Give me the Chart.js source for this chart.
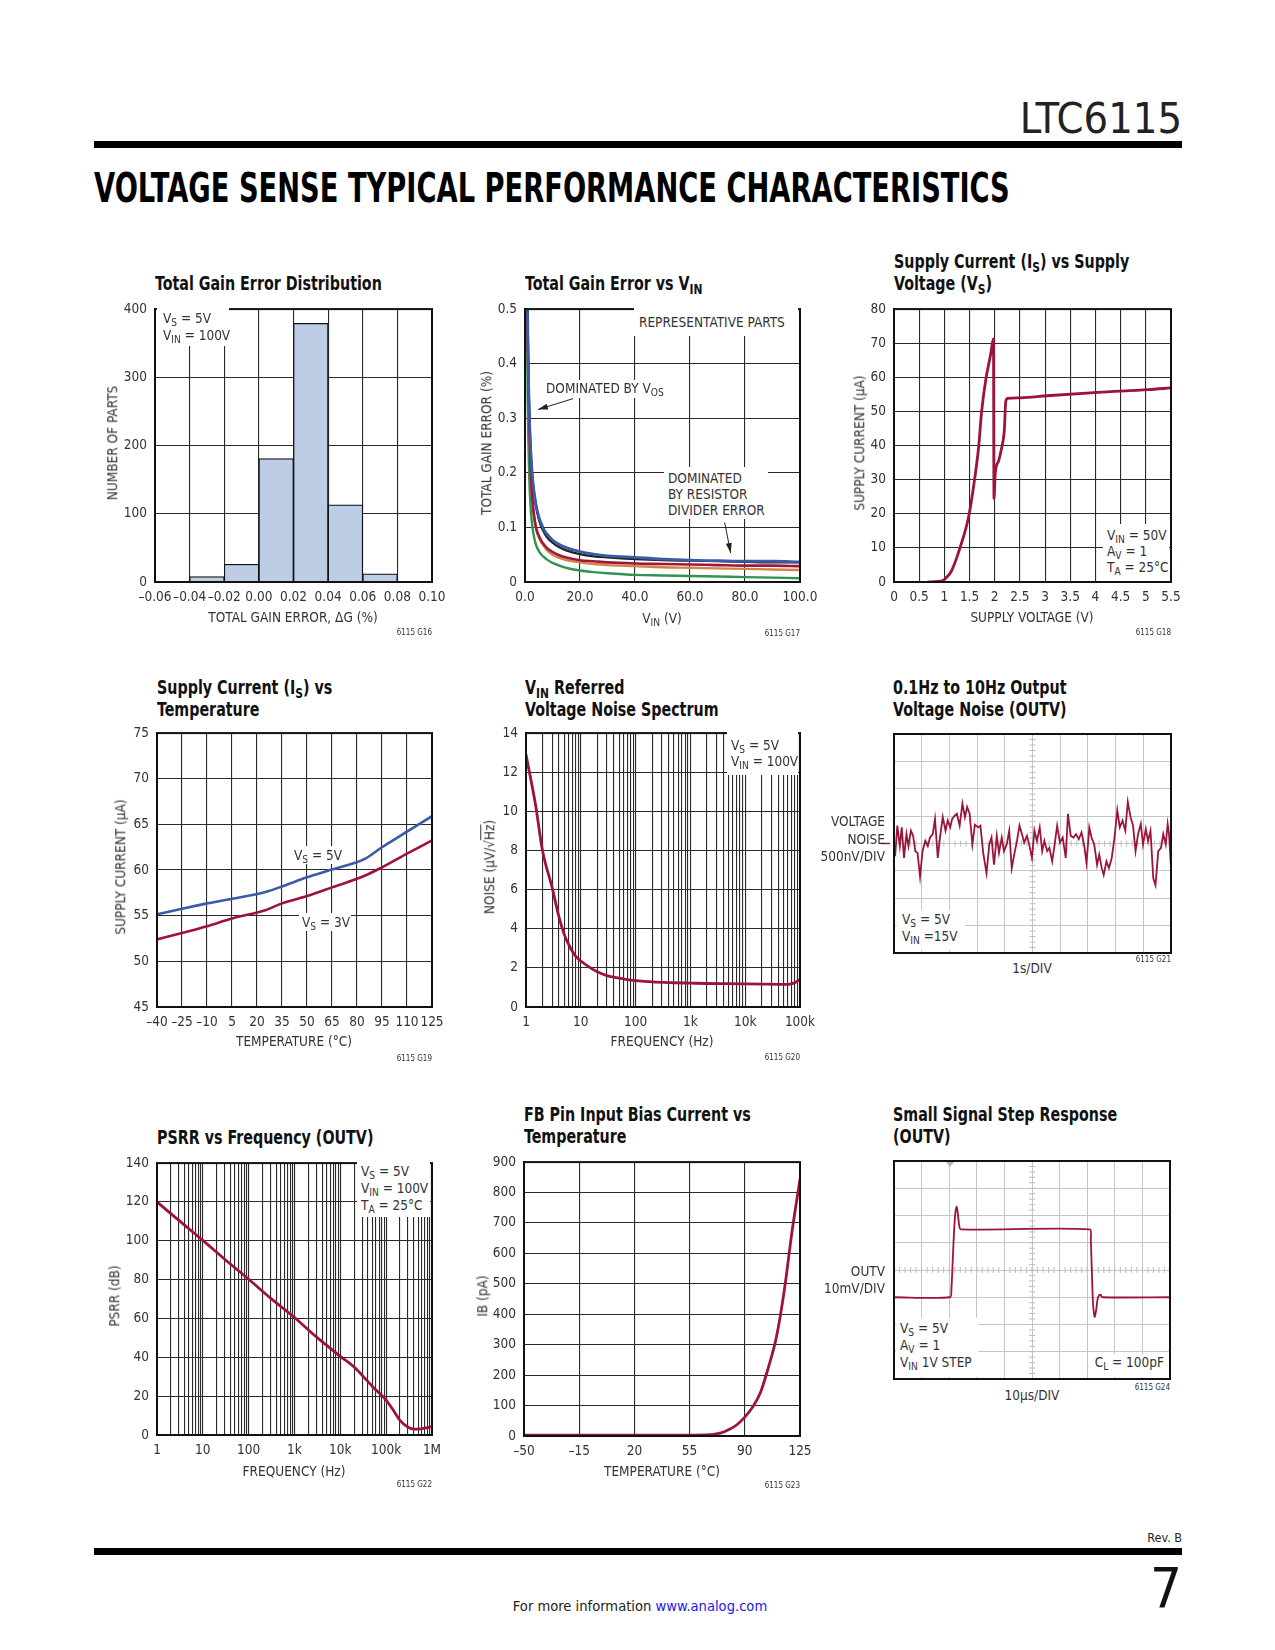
<!DOCTYPE html>
<html>
<head>
<meta charset="utf-8">
<script src="https://cdn.jsdelivr.net/npm/chart.js@4.4.1/dist/chart.umd.min.js"></script>
<style>
html, body { margin: 0; padding: 0; background: #fff; }
#page { position: relative; width: 1275px; height: 1650px; overflow: hidden;
  font-family: "Liberation Sans Narrow", "DejaVu Sans Condensed", sans-serif; color: #333; font-size: 13.5px; }
.abs { position: absolute; white-space: nowrap; line-height: 1; }
.rule { position: absolute; left: 94px; width: 1088px; height: 7px; background: #000; }
.ttl { position: absolute; white-space: nowrap; font-weight: bold; font-size: 19px; line-height: 22px; color: #111;
  transform: scaleX(0.835); transform-origin: left top; }
.note { position: absolute; white-space: nowrap; background: #fff; line-height: 17px; z-index: 2; box-sizing: border-box; }
.sect { font-family: "DejaVu Sans", sans-serif; font-weight: bold; font-size: 40px; color: #000; transform-origin: left center; }
sub { font-size: 0.75em; vertical-align: -0.3em; line-height: 0; }
canvas { position: absolute; }
</style>
</head>
<body>
<div id="page"></div>
<script>
// ---- data ----
const histCenters = [-0.05, -0.03, -0.01, 0.01, 0.03, 0.05, 0.07, 0.09];
const histCounts = [0, 8, 26, 181, 379, 113, 12, 0];

const gainVin = [0.6, 1, 1.5, 2, 2.5, 3, 4, 5, 6, 7, 8, 10, 12, 15, 20, 25, 30, 40, 50, 60, 70, 80, 90, 100];
const gainBlue = [0.75, 0.464, 0.321, 0.249, 0.206, 0.177, 0.142, 0.12, 0.106, 0.095, 0.088, 0.077, 0.070, 0.063, 0.0555, 0.051, 0.048, 0.045, 0.042, 0.040, 0.039, 0.038, 0.038, 0.037];
const gainBlack = [0.78, 0.47, 0.325, 0.25, 0.205, 0.175, 0.138, 0.115, 0.100, 0.090, 0.082, 0.072, 0.065, 0.058, 0.051, 0.047, 0.045, 0.042, 0.040, 0.039, 0.038, 0.037, 0.036, 0.036];
const gainRed = [0.70, 0.45, 0.30, 0.21, 0.165, 0.135, 0.10, 0.085, 0.075, 0.068, 0.062, 0.055, 0.050, 0.045, 0.040, 0.038, 0.036, 0.034, 0.033, 0.032, 0.031, 0.030, 0.030, 0.029];
const gainOrange = [0.68, 0.43, 0.29, 0.20, 0.158, 0.13, 0.098, 0.082, 0.072, 0.065, 0.058, 0.050, 0.045, 0.040, 0.036, 0.033, 0.031, 0.029, 0.027, 0.026, 0.025, 0.024, 0.023, 0.022];
const gainGreen = [0.55, 0.33, 0.20, 0.14, 0.11, 0.09, 0.068, 0.057, 0.05, 0.045, 0.041, 0.035, 0.031, 0.026, 0.021, 0.018, 0.016, 0.013, 0.012, 0.011, 0.010, 0.009, 0.008, 0.007];
const gainArrows = [[17.5, 0.336, 4.7, 0.316], [72.6, 0.109, 74.8, 0.053]];

const supplyV = [0.67, 0.97, 1.04, 1.14, 1.31, 1.48, 1.58, 1.68, 1.74, 1.83, 1.91, 1.96, 1.975, 1.985, 2.01, 2.08, 2.14, 2.19, 2.22, 2.26, 2.51, 3.04, 4.05, 5.05, 5.5];
const supplyI = [0, 0.4, 1.3, 3.2, 10, 19, 28, 39.5, 50, 60, 66, 70.5, 71.3, 24.5, 31.8, 35.6, 39.5, 44.4, 53, 53.8, 54, 54.6, 55.6, 56.4, 56.9];

const tempC = [-40, -25, -10, 5, 25, 35, 50, 65, 85, 95, 110, 125];
const isVs5 = [55.15, 55.76, 56.35, 56.85, 57.6, 58.2, 59.2, 60.05, 61.25, 62.5, 64.2, 65.9];
const isVs3 = [52.4, 53.1, 53.85, 54.7, 55.6, 56.35, 57.15, 58.1, 59.4, 60.3, 61.8, 63.25];
const tempTicks = [-40, -25, -10, 5, 20, 35, 50, 65, 80, 95, 110, 125];

const noiseF = [1, 1.5, 2, 3, 4, 5, 6, 7, 8, 10, 15, 20, 30, 50, 70, 100, 200, 500, 1000, 2000, 5000, 10000, 20000, 40000, 60000, 70000, 85000, 100000];
const noiseDens = [12.9, 10.3, 8.0, 6.1, 4.6, 3.7, 3.2, 2.85, 2.6, 2.35, 2.0, 1.8, 1.6, 1.47, 1.4, 1.35, 1.28, 1.24, 1.22, 1.2, 1.19, 1.18, 1.17, 1.16, 1.16, 1.18, 1.28, 1.42];

const scopeNoiseT = [0.04, 0.12, 0.21, 0.28, 0.36, 0.45, 0.52, 0.61, 0.69, 0.77,
  0.85, 0.94, 1.03, 1.13, 1.22, 1.30, 1.40, 1.48, 1.58, 1.66,
  1.76, 1.86, 1.94, 2.03, 2.10, 2.20, 2.27, 2.37, 2.47, 2.56,
  2.64, 2.73, 2.83, 2.92, 3.04, 3.12, 3.22, 3.34, 3.44, 3.52,
  3.61, 3.71, 3.79, 3.89, 3.97, 4.07, 4.16, 4.25, 4.34, 4.44,
  4.53, 4.62, 4.70, 4.80, 4.88, 4.98, 5.07, 5.16, 5.26, 5.35,
  5.43, 5.53, 5.61, 5.71, 5.80, 5.89, 5.99, 6.09, 6.20, 6.28,
  6.38, 6.48, 6.57, 6.67, 6.77, 6.87, 6.95, 7.05, 7.13, 7.23,
  7.33, 7.41, 7.50, 7.57, 7.67, 7.76, 7.86, 7.96, 8.06, 8.15,
  8.25, 8.35, 8.44, 8.54, 8.63, 8.72, 8.81, 8.91, 8.99, 9.09,
  9.17, 9.26, 9.36, 9.44, 9.54, 9.64, 9.72, 9.81, 9.88, 9.93, 10.0];
const scopeNoiseNV = [-233, 326, -47, 295, -264, 171, -47, 233, 140, -140,
  -171, -605, -140, 47, -47, 109, 171, 450, -264, 109,
  481, 233, 419, 295, 450, 512, 543, 326, 729, 481,
  667, 543, -16, 344, 295, 326, -171, -543, -16, 109,
  -388, 140, -171, 109, -140, -16, 233, -450, -202, 47,
  326, 171, 16, 140, -16, -264, 233, 47, 295, -140,
  47, -140, -78, -326, -16, 326, 16, 109, -264, 543,
  140, 109, 171, 78, 202, -47, -357, 295, 109, -16,
  -388, -202, -450, -574, -326, -450, -264, 109, 605, 295,
  419, 233, 760, 481, 326, -140, 171, 357, -16, 264,
  47, 233, -636, -760, -140, -78, 171, -16, 357, 171, -450];

const psrrF = [1, 3, 10, 30, 100, 300, 1000, 3000, 10000, 20000, 50000, 100000, 150000, 200000, 300000, 400000, 500000, 700000, 1000000];
const psrrDb = [120, 110.5, 100.2, 90.5, 80.2, 70.5, 60.5, 50.5, 40.5, 35, 25, 18, 12, 7.5, 4, 3, 3, 3.5, 4.3];

const ibTemp = [-50, -15, 20, 55, 65, 70, 75, 80, 85, 90, 95, 100, 105, 110, 115, 120, 125];
const ibPa = [3, 3, 3, 3, 3.5, 5, 10, 21, 37, 62, 95, 144, 226, 324, 477, 674, 843];

const stepT = [0, 20.3, 20.8, 21.3, 21.8, 22.3, 22.7, 23.1, 23.6, 24.2, 70.9, 71.3, 71.7, 72.1, 72.7, 73.2, 73.8, 74.4, 74.9, 75.5, 100];
const stepMv = [-10, -10, -7, 4, 15, 21.5, 23.2, 21, 16.5, 14.9, 14.9, 11, -1, -12, -17.2, -15, -10.5, -9.2, -9.1, -10, -10];

const freqLabels = { 1: '1', 10: '10', 100: '100', 1000: '1k', 10000: '10k', 100000: '100k', 1000000: '1M' };

// ---- helpers ----
const page = document.getElementById('page');
const FONT = '"Liberation Sans Narrow", "DejaVu Sans Condensed", sans-serif';
const RED = '#9c1538';
Chart.defaults.font.family = FONT;
Chart.defaults.font.size = 13.5;
Chart.defaults.color = '#333';
Chart.defaults.plugins.legend.display = false;
Chart.defaults.plugins.tooltip.enabled = false;
Chart.defaults.elements.point.radius = 0;

const xy = (xs, ys) => xs.map((x, i) => ({ x, y: ys[i] }));
const dash = v => (v < -1e-9 ? '\u2013' + Math.abs(v) : String(Math.abs(v) < 1e-9 ? 0 : v));

function put(html, x, y, o = {}) {
  const d = document.createElement('div');
  d.className = 'abs ' + (o.cls || '');
  d.innerHTML = html;
  d.style.left = x + 'px';
  d.style.top = y + 'px';
  if (o.size) d.style.fontSize = o.size + 'px';
  if (o.color) d.style.color = o.color;
  const tx = o.align === 'r' ? '-100%' : o.align === 'c' || o.rot ? '-50%' : '0';
  d.style.transform = `translate(${tx},-50%)` + (o.rot ? ' rotate(-90deg)' : '') + (o.sx ? ` scaleX(${o.sx})` : '');
  page.appendChild(d);
  return d;
}

function title(html, x, top) {
  const d = document.createElement('div');
  d.className = 'ttl';
  d.innerHTML = html;
  d.style.left = x + 'px';
  d.style.top = top + 'px';
  page.appendChild(d);
}

function note(l, t, w, h, html, pad, align, lh) {
  const d = document.createElement('div');
  d.className = 'note';
  d.innerHTML = html;
  Object.assign(d.style, { left: l + 'px', top: t + 'px', width: w + 'px', height: h + 'px',
    padding: pad, textAlign: align || 'left' });
  if (lh) d.style.lineHeight = lh + 'px';
  page.appendChild(d);
}

const framePlugin = {
  id: 'frame',
  afterDraw(chart) {
    const { ctx, chartArea: a } = chart;
    ctx.save();
    ctx.strokeStyle = '#111';
    ctx.lineWidth = 2;
    ctx.strokeRect(a.left, a.top, a.right - a.left, a.bottom - a.top);
    ctx.restore();
  }
};

function makeChart(box, m, config) {
  const cv = document.createElement('canvas');
  const w = box.r - box.l + m.l + m.r, h = box.b - box.t + m.t + m.b;
  cv.width = w; cv.height = h;
  Object.assign(cv.style, { left: (box.l - m.l) + 'px', top: (box.t - m.t) + 'px', width: w + 'px', height: h + 'px' });
  page.appendChild(cv);
  const o = config.options;
  o.responsive = false;
  o.animation = false;
  o.layout = { padding: { top: m.t, right: m.r, left: 0, bottom: 0 } };
  o.scales.x.afterFit = s => { s.height = m.b; };
  o.scales.y.afterFit = s => { s.width = m.l; };
  config.plugins = [framePlugin].concat(config.plugins || []);
  return new Chart(cv, config);
}

const GRID = { color: '#2a2a2a', lineWidth: 1.1, drawTicks: false, offset: false };
const BORDER = { display: true, color: '#111', width: 2 };
const XPAD = 7, YPAD = 8;

function lin(min, max, step, fmt, pad) {
  return { type: 'linear', min, max, offset: false, grid: GRID, border: BORDER,
    ticks: { stepSize: step, padding: pad, autoSkip: false, maxRotation: 0, callback: fmt || dash } };
}
function lintk(values, fmt, pad) {
  const s = lin(values[0], values[values.length - 1], 1, fmt, pad);
  s.afterBuildTicks = sc => { sc.ticks = values.map(value => ({ value })); };
  return s;
}
function logx(max) {
  return { type: 'logarithmic', min: 1, max, grid: GRID, border: BORDER,
    afterBuildTicks: s => {
      const t = [];
      for (let d = 1; d < max; d *= 10) for (let k = 1; k < 10; k++) t.push({ value: k * d });
      t.push({ value: max });
      s.ticks = t;
    },
    ticks: { padding: XPAD, autoSkip: false, maxRotation: 0, callback: v => freqLabels[v] || '' } };
}
function line(data, color, width, extra) {
  return Object.assign({ data, borderColor: color, borderWidth: width || 2.6, pointRadius: 0,
    cubicInterpolationMode: 'monotone', fill: false }, extra || {});
}

const M = { l: 60, t: 10, r: 26, b: 32 };

// ---- page furniture ----
put('LTC6115', 1182, 118, { align: 'r', size: 43, color: '#222' });
const rt = document.createElement('div'); rt.className = 'rule'; rt.style.top = '141px'; page.appendChild(rt);
const sect = put('VOLTAGE SENSE TYPICAL PERFORMANCE CHARACTERISTICS', 94, 188, { cls: 'sect' });
sect.style.transform = `translate(0,-50%) scaleX(${916 / sect.offsetWidth})`;
put('Rev. B', 1182, 1538, { align: 'r', size: 12.5, color: '#222' });
const rb = document.createElement('div'); rb.className = 'rule'; rb.style.top = '1548px'; page.appendChild(rb);
put('7', 1182, 1588, { align: 'r', size: 56, color: '#111' });
put('For more information <span style="color:#1a1aee">www.analog.com</span>', 640, 1606, { align: 'c', size: 14.6, color: '#222' });

// ---- 1: Total Gain Error Distribution ----
title('Total Gain Error Distribution', 155, 272);
makeChart({ l: 155, t: 303, r: 432, b: 582 }, M, {
  type: 'bar',
  data: { datasets: [{ data: xy(histCenters, histCounts), backgroundColor: '#bdcde6', borderColor: '#111',
    borderWidth: 1.2, barPercentage: 1, categoryPercentage: 1 }] },
  options: { scales: {
    x: lin(-0.06, 0.10, 0.02, v => (v < -1e-9 ? '\u2013' : '') + Math.abs(v).toFixed(2), XPAD),
    y: lin(0, 400, 100, null, YPAD) } }
});
note(157, 306, 72, 40, 'V<sub>S</sub> = 5V<br>V<sub>IN</sub> = 100V', '4px 0 0 6px');
put('TOTAL GAIN ERROR, \u0394G (%)', 293, 618, { align: 'c' });
put('NUMBER OF PARTS', 113, 443, { rot: true });
put('6115 G16', 432, 633, { align: 'r', size: 8 });

// ---- 2: Total Gain Error vs VIN ----
title('Total Gain Error vs V<sub>IN</sub>', 525, 272);
const arrowPlugin = {
  id: 'arrows',
  afterDatasetsDraw(chart) {
    const { ctx, scales: { x, y } } = chart;
    ctx.save();
    ctx.strokeStyle = '#222'; ctx.fillStyle = '#222'; ctx.lineWidth = 1;
    gainArrows.forEach(([x0, y0, x1, y1]) => {
      const ax = x.getPixelForValue(x0), ay = y.getPixelForValue(y0);
      const bx = x.getPixelForValue(x1), by = y.getPixelForValue(y1);
      const ang = Math.atan2(by - ay, bx - ax);
      ctx.beginPath(); ctx.moveTo(ax, ay); ctx.lineTo(bx, by); ctx.stroke();
      ctx.beginPath(); ctx.moveTo(bx, by);
      ctx.lineTo(bx - 10 * Math.cos(ang) + 3 * Math.sin(ang), by - 10 * Math.sin(ang) - 3 * Math.cos(ang));
      ctx.lineTo(bx - 10 * Math.cos(ang) - 3 * Math.sin(ang), by - 10 * Math.sin(ang) + 3 * Math.cos(ang));
      ctx.closePath(); ctx.fill();
    });
    ctx.restore();
  }
};
makeChart({ l: 525, t: 303, r: 800, b: 582 }, M, {
  type: 'line',
  data: { datasets: [
    line(xy(gainVin, gainBlue), '#3b5aa8', 2.8),
    line(xy(gainVin, gainBlack), '#222', 2.2),
    line(xy(gainVin, gainRed), '#a0173c', 2.6),
    line(xy(gainVin, gainOrange), '#cf8740', 2.4),
    line(xy(gainVin, gainGreen), '#2f9450', 2.4)
  ] },
  options: { scales: {
    x: lin(0, 100, 20, v => v.toFixed(1), XPAD),
    y: lin(0, 0.5, 0.1, v => (v < 1e-9 ? '0' : v.toFixed(1)), YPAD) } },
  plugins: [arrowPlugin]
});
note(634, 305, 164, 31, 'REPRESENTATIVE PARTS', '9px 0 0 5px');
note(542, 380, 100, 18, 'DOMINATED BY V<sub>OS</sub>', '0 0 0 4px');
note(664, 467, 104, 52, 'DOMINATED<br>BY RESISTOR<br>DIVIDER ERROR', '3px 0 0 4px', null, 16);
put('V<sub>IN</sub> (V)', 662, 619, { align: 'c' });
put('TOTAL GAIN ERROR (%)', 487, 443, { rot: true });
put('6115 G17', 800, 634, { align: 'r', size: 8 });

// ---- 3: Supply Current vs Supply Voltage ----
title('Supply Current (I<sub>S</sub>) vs Supply<br>Voltage (V<sub>S</sub>)', 894, 250);
makeChart({ l: 894, t: 303, r: 1171, b: 582 }, M, {
  type: 'line',
  data: { datasets: [line(xy(supplyV, supplyI), RED, 2.8)] },
  options: { scales: { x: lin(0, 5.5, 0.5, null, XPAD), y: lin(0, 80, 10, null, YPAD) } }
});
note(1103, 524, 66, 57, 'V<sub>IN</sub> = 50V<br>A<sub>V</sub> = 1<br>T<sub>A</sub> = 25\u00b0C', '3px 0 0 4px', null, 16);
put('SUPPLY VOLTAGE (V)', 1032, 618, { align: 'c' });
put('SUPPLY CURRENT (\u00b5A)', 860, 443, { rot: true });
put('6115 G18', 1171, 633, { align: 'r', size: 8 });

// ---- 4: Supply Current vs Temperature ----
title('Supply Current (I<sub>S</sub>) vs<br>Temperature', 157, 676);
makeChart({ l: 157, t: 727, r: 432, b: 1007 }, M, {
  type: 'line',
  data: { datasets: [line(xy(tempC, isVs5), '#3b5aa8', 2.6), line(xy(tempC, isVs3), RED, 2.6)] },
  options: { scales: { x: lintk(tempTicks, null, XPAD), y: lin(45, 75, 5, null, YPAD) } }
});
note(291, 846, 52, 18, 'V<sub>S</sub> = 5V', '1px 0 0 3px');
note(299, 913, 52, 18, 'V<sub>S</sub> = 3V', '1px 0 0 3px');
put('TEMPERATURE (\u00b0C)', 294, 1042, { align: 'c' });
put('SUPPLY CURRENT (\u00b5A)', 121, 867, { rot: true });
put('6115 G19', 432, 1059, { align: 'r', size: 8 });

// ---- 5: VIN Referred Voltage Noise Spectrum ----
title('V<sub>IN</sub> Referred<br>Voltage Noise Spectrum', 525, 676);
makeChart({ l: 526, t: 727, r: 800, b: 1007 }, M, {
  type: 'line',
  data: { datasets: [line(xy(noiseF, noiseDens), RED, 2.8)] },
  options: { scales: { x: logx(100000), y: lin(0, 14, 2, null, YPAD) } }
});
note(727, 729, 71, 46, 'V<sub>S</sub> = 5V<br>V<sub>IN</sub> = 100V', '8px 0 0 4px', null, 16);
put('FREQUENCY (Hz)', 662, 1042, { align: 'c' });
put('NOISE (\u00b5V/\u221a<span style="text-decoration:overline">Hz</span>)', 490, 867, { rot: true });
put('6115 G20', 800, 1058, { align: 'r', size: 8 });

// ---- scope helpers ----
function scopeScale(min, max, step) {
  return { type: 'linear', min, max, grid: { color: '#c6c6c6', lineWidth: 1, drawTicks: false },
    border: { display: false }, ticks: { display: false, stepSize: step } };
}
const scopeTicks = {
  id: 'scopeTicks',
  beforeDatasetsDraw(chart) {
    const { ctx, chartArea: a } = chart;
    const cx = (a.left + a.right) / 2, cy = (a.top + a.bottom) / 2;
    const dx = (a.right - a.left) / 50, dy = (a.bottom - a.top) / 40;
    ctx.save();
    ctx.strokeStyle = '#bdbdbd'; ctx.lineWidth = 1;
    ctx.beginPath();
    for (let i = 1; i < 50; i++) { const px = a.left + i * dx; ctx.moveTo(px, cy - 3); ctx.lineTo(px, cy + 3); }
    for (let j = 1; j < 40; j++) { const py = a.top + j * dy; ctx.moveTo(cx - 3, py); ctx.lineTo(cx + 3, py); }
    ctx.stroke();
    ctx.restore();
  }
};
const SM = { l: 16, t: 3, r: 3, b: 3 };

// ---- 6: 0.1Hz to 10Hz noise ----
title('0.1Hz to 10Hz Output<br>Voltage Noise (OUTV)', 893, 676);
const zeroMark = {
  id: 'zeroMark',
  afterDraw(chart) {
    const { ctx, chartArea: a, scales: { y } } = chart;
    const py = y.getPixelForValue(0);
    ctx.save(); ctx.strokeStyle = RED; ctx.lineWidth = 1.5;
    ctx.beginPath(); ctx.moveTo(a.left - 12, py); ctx.lineTo(a.left - 4, py); ctx.stroke();
    ctx.restore();
  }
};
makeChart({ l: 894, t: 734, r: 1171, b: 953 }, SM, {
  type: 'line',
  data: { datasets: [line(xy(scopeNoiseT, scopeNoiseNV), RED, 1.8, { cubicInterpolationMode: 'default', tension: 0 })] },
  options: { scales: { x: scopeScale(0, 10, 1), y: scopeScale(-2000, 2000, 500) } },
  plugins: [scopeTicks, zeroMark]
});
note(897, 910, 68, 40, 'V<sub>S</sub> = 5V<br>V<sub>IN</sub> =15V', '1px 0 0 5px');
put('VOLTAGE', 885, 822, { align: 'r' });
put('NOISE', 885, 840, { align: 'r' });
put('500nV/DIV', 885, 857, { align: 'r' });
put('1s/DIV', 1032, 969, { align: 'c' });
put('6115 G21', 1171, 960, { align: 'r', size: 8 });

// ---- 7: PSRR vs Frequency ----
title('PSRR vs Frequency (OUTV)', 157, 1126);
makeChart({ l: 157, t: 1157, r: 432, b: 1435 }, M, {
  type: 'line',
  data: { datasets: [line(xy(psrrF, psrrDb), RED, 2.8)] },
  options: { scales: { x: logx(1000000), y: lin(0, 140, 20, null, YPAD) } }
});
note(357, 1159, 73, 58, 'V<sub>S</sub> = 5V<br>V<sub>IN</sub> = 100V<br>T<sub>A</sub> = 25\u00b0C', '4px 0 0 4px');
put('FREQUENCY (Hz)', 294, 1472, { align: 'c' });
put('PSRR (dB)', 115, 1296, { rot: true });
put('6115 G22', 432, 1485, { align: 'r', size: 8 });

// ---- 8: FB Pin Input Bias Current vs Temperature ----
title('FB Pin Input Bias Current vs<br>Temperature', 524, 1103);
makeChart({ l: 524, t: 1156, r: 800, b: 1436 }, M, {
  type: 'line',
  data: { datasets: [line(xy(ibTemp, ibPa), RED, 2.8)] },
  options: { scales: { x: lin(-50, 125, 35, null, XPAD), y: lin(0, 900, 100, null, YPAD) } }
});
put('TEMPERATURE (\u00b0C)', 662, 1472, { align: 'c' });
put('IB (pA)', 483, 1296, { rot: true });
put('6115 G23', 800, 1486, { align: 'r', size: 8 });

// ---- 9: Small Signal Step Response ----
title('Small Signal Step Response<br>(OUTV)', 893, 1103);
const trigMark = {
  id: 'trigMark',
  afterDraw(chart) {
    const { ctx, chartArea: a, scales: { x } } = chart;
    const px = x.getPixelForValue(stepT[1]);
    ctx.save(); ctx.fillStyle = '#b5b5b5';
    ctx.beginPath(); ctx.moveTo(px - 4, a.top + 1); ctx.lineTo(px + 4, a.top + 1); ctx.lineTo(px, a.top + 6); ctx.closePath(); ctx.fill();
    ctx.restore();
  }
};
makeChart({ l: 894, t: 1161, r: 1170, b: 1379 }, SM, {
  type: 'line',
  data: { datasets: [line(xy(stepT, stepMv), RED, 1.8, { cubicInterpolationMode: 'default', tension: 0.25 })] },
  options: { scales: { x: scopeScale(0, 100, 10), y: scopeScale(-40, 40, 10) } },
  plugins: [scopeTicks, trigMark]
});
note(896, 1318, 82, 59, 'V<sub>S</sub> = 5V<br>A<sub>V</sub> = 1<br>V<sub>IN</sub> 1V STEP', '2px 0 0 4px');
note(1093, 1354, 75, 23, 'C<sub>L</sub> = 100pF', '0 4px 0 0', 'right');
put('OUTV', 885, 1272, { align: 'r' });
put('10mV/DIV', 885, 1289, { align: 'r' });
put('10\u00b5s/DIV', 1032, 1396, { align: 'c' });
put('6115 G24', 1170, 1388, { align: 'r', size: 8 });
</script>
</body>
</html>
